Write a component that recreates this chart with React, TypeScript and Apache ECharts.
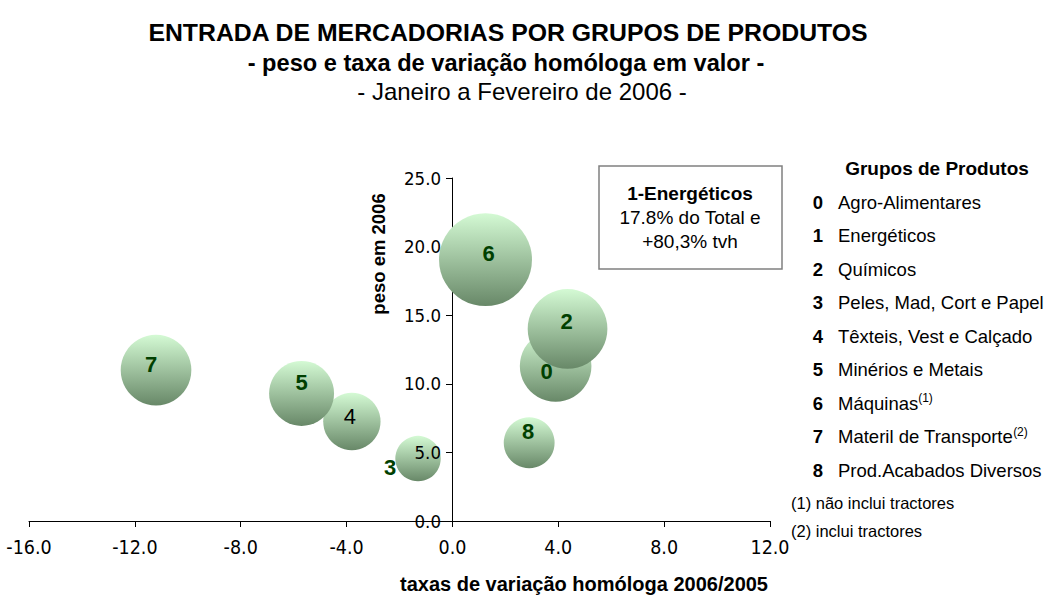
import React, { useEffect, useRef } from "react";
import * as echarts from "echarts";

// ---- data ----
const categories = ["0", "2", "3", "4", "5", "6", "7", "8"];
const taxaVariacao = [3.9, 4.35, -1.3, -3.8, -5.7, 1.25, -11.2, 2.9];
const peso2006 = [11.3, 14.0, 4.55, 7.25, 9.3, 19.05, 11.0, 5.7];

const xTicks = { min: -16, max: 12, interval: 4 };
const yTicks = { min: 0, max: 25, interval: 5 };

const legendNums = ["0", "1", "2", "3", "4", "5", "6", "7", "8"];
const legendNames = [
  "Agro-Alimentares",
  "Energéticos",
  "Químicos",
  "Peles, Mad, Cort e Papel",
  "Têxteis, Vest e Calçado",
  "Minérios e Metais",
  "Máquinas{sup|(1)}",
  "Materil de Transporte{sup|(2)}",
  "Prod.Acabados Diversos",
];
const footnotes = ["(1) não inclui tractores", "(2) inclui tractores"];
const boxLines = ["1-Energéticos", "17.8% do Total e", "+80,3% tvh"];

// ---- styles (label offsets per group) ----
const labelOffsets: Record<string, [number, number]> = {
  "0": [-9, 6],
  "2": [-1, -7],
  "3": [-28, 9],
  "4": [-2, -5],
  "5": [0, -11],
  "6": [3, -6],
  "7": [-5, -6],
  "8": [-1, -11],
};
const plainLabels = new Set(["4"]);

const FONT = "'Liberation Sans', Arial, sans-serif";
const NARROW = "'Liberation Sans Narrow', 'Arial Narrow', 'DejaVu Sans Condensed', sans-serif";

export default function App() {
  const ref = useRef<HTMLDivElement>(null);
  useEffect(() => {
    if (!ref.current) return;
    const chart = echarts.init(ref.current, undefined, { renderer: "svg" });

    const gradient = new echarts.graphic.LinearGradient(0, 0, 0, 1, [
      { offset: 0, color: "#d4fad4" },
      { offset: 1, color: "#688868" },
    ]);

    const data = categories.map((c, i) => ({
      value: [taxaVariacao[i], peso2006[i]],
      name: c,
      label: {
        show: true,
        formatter: c,
        position: "inside",
        offset: labelOffsets[c],
        color: plainLabels.has(c) ? "#000" : "#004000",
        fontWeight: plainLabels.has(c) ? "normal" : "bold",
        fontSize: 22,
        fontFamily: FONT,
      },
    }));

    const graphics: any[] = [];
    graphics.push({
      type: "text", x: 508, y: 32,
      style: { text: "ENTRADA DE MERCADORIAS POR GRUPOS DE PRODUTOS", font: `bold 24.8px ${FONT}`, fill: "#000", align: "center", verticalAlign: "middle" },
    });
    graphics.push({
      type: "text", x: 506, y: 63,
      style: { text: "- peso e taxa de variação homóloga em valor -", font: `bold 23.6px ${FONT}`, fill: "#000", align: "center", verticalAlign: "middle" },
    });
    graphics.push({
      type: "text", x: 522, y: 91,
      style: { text: "- Janeiro a Fevereiro de 2006 -", font: `24px ${FONT}`, fill: "#000", align: "center", verticalAlign: "middle" },
    });
    graphics.push({
      type: "text", x: 378, y: 254, rotation: Math.PI / 2,
      style: { text: "peso em 2006", font: `bold 18.5px ${FONT}`, fill: "#000", align: "center", verticalAlign: "middle" },
    });
    graphics.push({
      type: "text", x: 584, y: 584,
      style: { text: "taxas de variação homóloga 2006/2005", font: `bold 20px ${FONT}`, fill: "#000", align: "center", verticalAlign: "middle" },
    });
    graphics.push({
      type: "rect", shape: { x: 599, y: 166, width: 183, height: 103 },
      style: { fill: "#fff", stroke: "#808080", lineWidth: 1.5 },
    });
    boxLines.forEach((t, i) => {
      graphics.push({
        type: "text", x: 690, y: 193 + i * 24,
        style: { text: t, font: `${i === 0 ? "bold " : ""}19px ${FONT}`, fill: "#000", align: "center", verticalAlign: "middle" },
      });
    });
    graphics.push({
      type: "text", x: 937, y: 168,
      style: { text: "Grupos de Produtos", font: `bold 19px ${FONT}`, fill: "#000", align: "center", verticalAlign: "middle" },
    });
    legendNums.forEach((n, i) => {
      const y = 202 + i * 33.5;
      graphics.push({
        type: "text", x: 818, y,
        style: { text: n, font: `bold 18.5px ${FONT}`, fill: "#000", align: "center", verticalAlign: "middle" },
      });
      graphics.push({
        type: "text", x: 838, y,
        style: {
          text: legendNames[i], font: `18.5px ${FONT}`, fill: "#000", align: "left", verticalAlign: "middle",
          rich: { sup: { fontSize: 12, fontFamily: FONT, verticalAlign: "top", padding: [0, 0, 10, 0] } },
        },
      });
    });
    footnotes.forEach((t, i) => {
      graphics.push({
        type: "text", x: 791, y: 503 + i * 28,
        style: { text: t, font: `16.5px ${FONT}`, fill: "#000", align: "left", verticalAlign: "middle" },
      });
    });

    const tickFmt = (v: number) => v.toFixed(1);

    chart.setOption({
      animation: false,
      backgroundColor: "#fff",
      grid: [
        { left: 29, right: 277, top: 178, bottom: 77, containLabel: false, outerBoundsMode: "none" },
        { left: 452, width: 1, top: 178, bottom: 77, containLabel: false, outerBoundsMode: "none" },
      ],
      xAxis: [
        {
          type: "value", gridIndex: 0,
          min: xTicks.min, max: xTicks.max, interval: xTicks.interval,
          splitLine: { show: false },
          axisLine: { show: true, onZero: false, lineStyle: { color: "#000", width: 1 } },
          axisTick: { show: true, length: 6, lineStyle: { color: "#000" } },
          axisLabel: { formatter: tickFmt, fontFamily: NARROW, fontSize: 19.5, color: "#000", margin: 16 },
        },
        { type: "value", gridIndex: 1, min: 0, max: 1, show: false },
      ],
      yAxis: [
        {
          type: "value", gridIndex: 0,
          min: yTicks.min, max: yTicks.max, interval: yTicks.interval,
          show: false,
        },
        {
          type: "value", gridIndex: 1, position: "left", offset: 0, z: 0,
          min: yTicks.min, max: yTicks.max, interval: yTicks.interval,
          splitLine: { show: false },
          axisLine: { show: true, onZero: false, lineStyle: { color: "#000", width: 1 } },
          axisTick: { show: true, length: 6, lineStyle: { color: "#000" } },
          axisLabel: { show: false },
        },
        {
          type: "value", gridIndex: 1, position: "left", offset: 0, z: 10,
          min: yTicks.min, max: yTicks.max, interval: yTicks.interval,
          splitLine: { show: false },
          axisLine: { show: false, onZero: false },
          axisTick: { show: false },
          axisLabel: { formatter: tickFmt, fontFamily: NARROW, fontSize: 18.5, color: "#000", margin: 11 },
        },
      ],
      series: [
        {
          type: "scatter",
          xAxisIndex: 0, yAxisIndex: 0,
          data,
          symbol: "circle",
          symbolSize: (val: number[]) => 21.3 * Math.sqrt(val[1]),
          itemStyle: { color: gradient, opacity: 1 },
          emphasis: { disabled: true },
          z: 5,
        },
      ],
      graphic: graphics,
    });
    return () => chart.dispose();
  }, []);
  return <div ref={ref} style={{ position: "fixed", left: 0, top: 0, width: 1047, height: 598 }} />;
}
